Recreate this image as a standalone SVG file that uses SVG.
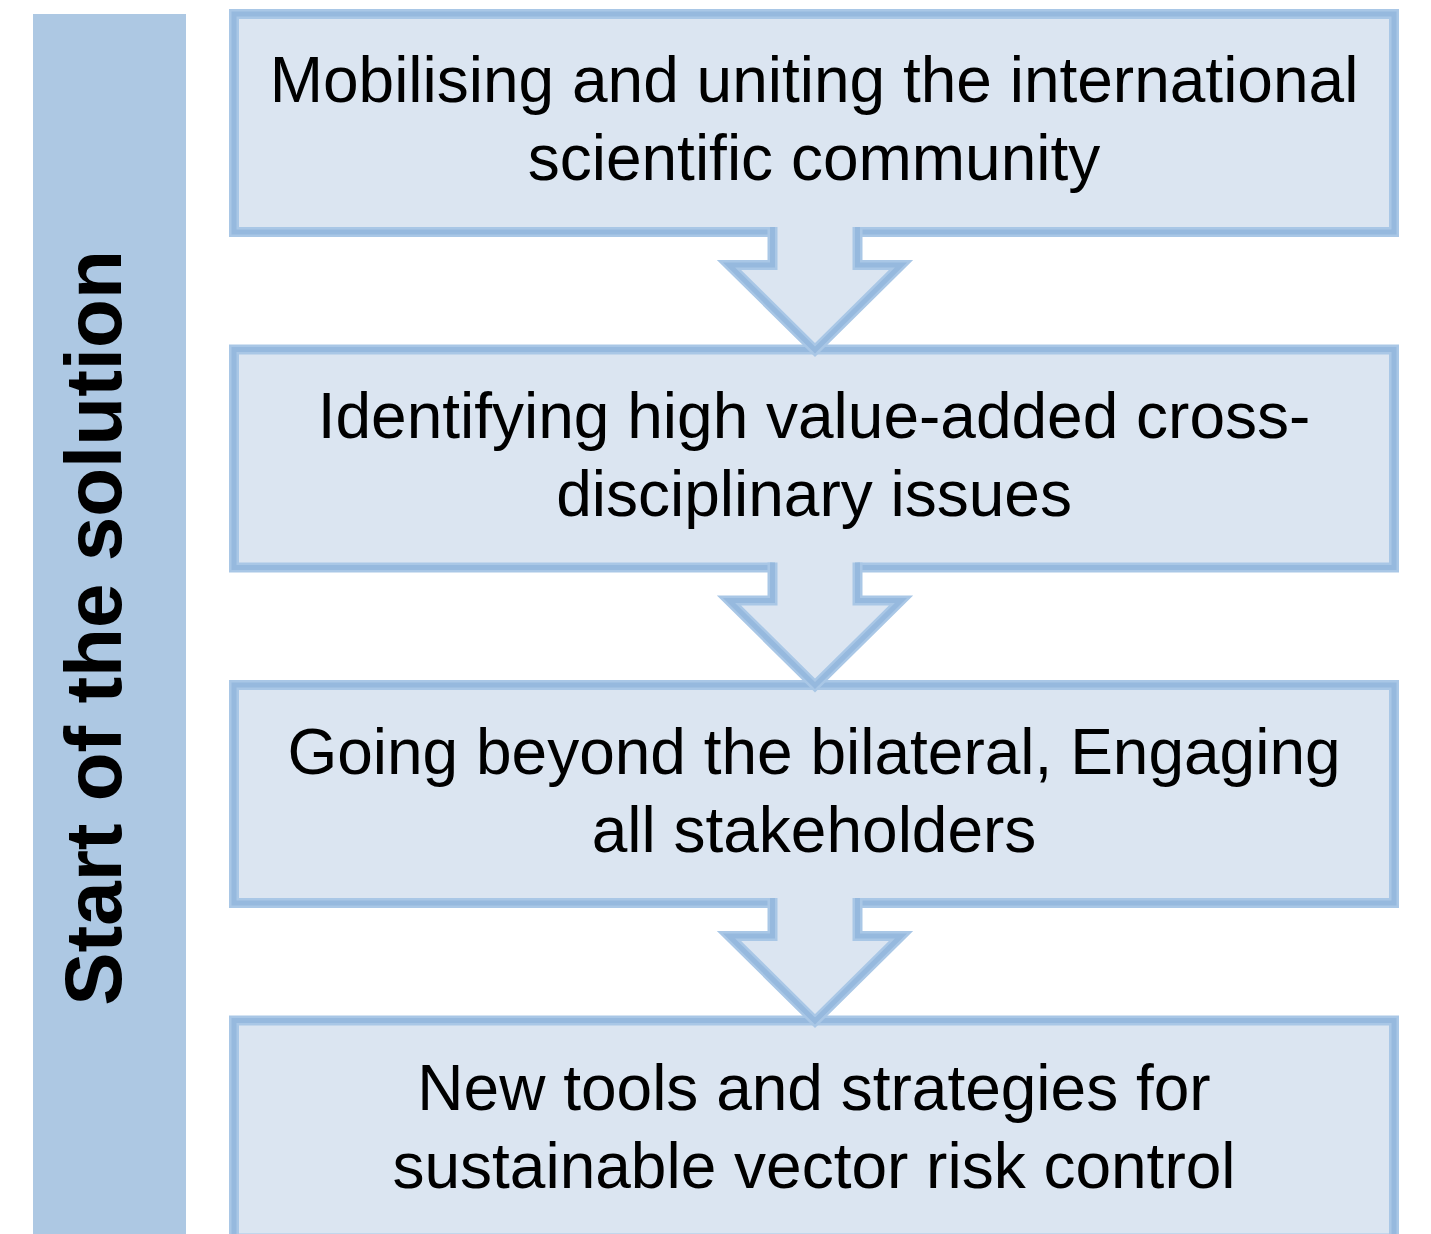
<svg xmlns="http://www.w3.org/2000/svg" width="1431" height="1234" viewBox="0 0 1431 1234">
<style>
.bx{fill:#dbe5f1;stroke:#a9c7e6;stroke-width:10}
.bi{fill:none;stroke:#96b9de;stroke-width:5}
.af{fill:#dbe5f1;stroke:none}
.ao{fill:none;stroke:#a9c7e6;stroke-width:10;stroke-linejoin:miter;stroke-miterlimit:10}
.ai{fill:none;stroke:#96b9de;stroke-width:5;stroke-linejoin:miter;stroke-miterlimit:10}
.t{font-family:"Liberation Sans",Arial,sans-serif;font-size:64px;fill:#000;text-anchor:middle}
.side{font-family:"Liberation Sans",Arial,sans-serif;font-size:80px;font-weight:bold;fill:#000;text-anchor:middle}
</style>
<rect width="1431" height="1234" fill="#ffffff"/>
<g id="sidebar">
<rect x="33" y="14" width="153" height="1220" fill="#adc8e3"/>
<text class="side" transform="translate(121,628) rotate(-90)">Start of the solution</text>
</g>
<g id="box1">
<rect class="bx" x="234" y="14" width="1160" height="218"/>
<rect class="bi" x="234" y="14" width="1160" height="218"/>
</g>
<g id="box2">
<rect class="bx" x="234" y="349.5" width="1160" height="218"/>
<rect class="bi" x="234" y="349.5" width="1160" height="218"/>
</g>
<g id="box3">
<rect class="bx" x="234" y="685" width="1160" height="218"/>
<rect class="bi" x="234" y="685" width="1160" height="218"/>
</g>
<g id="box4">
<rect class="bx" x="234" y="1020.5" width="1160" height="218"/>
<rect class="bi" x="234" y="1020.5" width="1160" height="218"/>
</g>
<g id="connectors">
<g transform="translate(0,237)">
<polygon class="af" points="772.5,-14 772.5,28 729,28 815,113 901,28 857.5,28 857.5,-14"/>
<polyline class="ao" points="772.5,-10 772.5,28 729,28 815,113 901,28 857.5,28 857.5,-10"/>
<polyline class="ai" points="772.5,-10 772.5,28 729,28 815,113 901,28 857.5,28 857.5,-10"/>
</g>
<g transform="translate(0,572.5)">
<polygon class="af" points="772.5,-14 772.5,28 729,28 815,113 901,28 857.5,28 857.5,-14"/>
<polyline class="ao" points="772.5,-10 772.5,28 729,28 815,113 901,28 857.5,28 857.5,-10"/>
<polyline class="ai" points="772.5,-10 772.5,28 729,28 815,113 901,28 857.5,28 857.5,-10"/>
</g>
<g transform="translate(0,908)">
<polygon class="af" points="772.5,-14 772.5,28 729,28 815,113 901,28 857.5,28 857.5,-14"/>
<polyline class="ao" points="772.5,-10 772.5,28 729,28 815,113 901,28 857.5,28 857.5,-10"/>
<polyline class="ai" points="772.5,-10 772.5,28 729,28 815,113 901,28 857.5,28 857.5,-10"/>
</g>
</g>
<g id="labels">
<text class="t" x="814" y="102">Mobilising and uniting the international</text>
<text class="t" x="814" y="180">scientific community</text>
<text class="t" x="814" y="438">Identifying high value-added cross-</text>
<text class="t" x="814" y="516">disciplinary issues</text>
<text class="t" x="814" y="774">Going beyond the bilateral, Engaging</text>
<text class="t" x="814" y="852">all stakeholders</text>
<text class="t" x="814" y="1110">New tools and strategies for</text>
<text class="t" x="814" y="1188">sustainable vector risk control</text>
</g>
</svg>
